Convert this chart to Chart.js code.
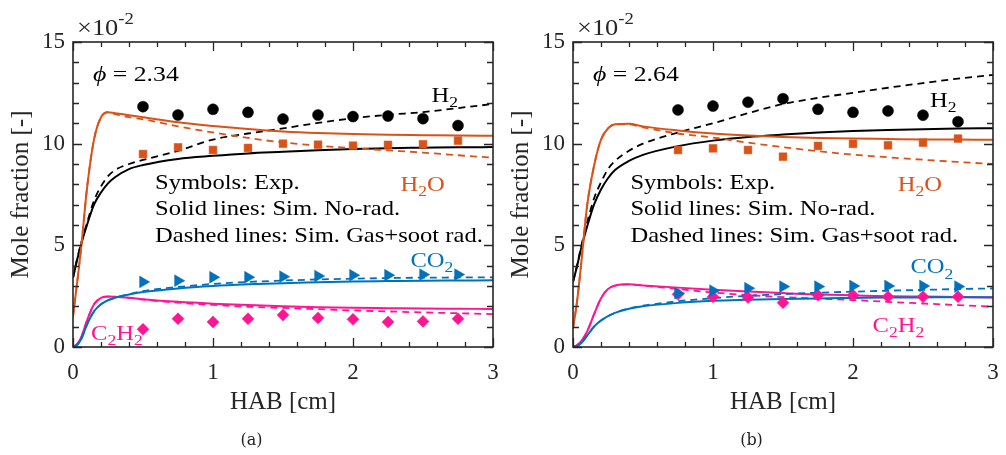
<!DOCTYPE html>
<html>
<head>
<meta charset="utf-8">
<script src="https://cdn.jsdelivr.net/npm/chart.js@4.4.0/dist/chart.umd.min.js"></script>
<style>
  body { margin: 0; background: #fff; width: 1006px; height: 455px; overflow: hidden; position: relative; }
  .panel { position: absolute; top: 0; width: 503px; height: 455px; }
</style>
</head>
<body>
<div class="panel" style="left:0"><canvas id="chartA" width="503" height="455"></canvas></div>
<div class="panel" style="left:500px"><canvas id="chartB" width="503" height="455"></canvas></div>
<script>
// ---- data (mole fraction x 1e-2, HAB in cm) ----
const simX = [0, 0.03, 0.06, 0.1, 0.15, 0.2, 0.25, 0.3, 0.4, 0.5, 0.75, 1, 1.25, 1.5, 1.75, 2, 2.25, 2.5, 2.75, 3];
const expXA = [0.5, 0.75, 1, 1.25, 1.5, 1.75, 2, 2.25, 2.5, 2.75];
const expXB = [0.75, 1, 1.25, 1.5, 1.75, 2, 2.25, 2.5, 2.75];

// phi = 2.34
const h2ExpA   = [11.82, 11.41, 11.69, 11.54, 11.21, 11.41, 11.33, 11.36, 11.23, 10.89];
const h2oExpA  = [9.49, 9.82, 9.69, 9.79, 10.0, 9.95, 9.9, 9.94, 9.97, 10.15];
const co2ExpA  = [3.2, 3.26, 3.43, 3.43, 3.46, 3.49, 3.53, 3.53, 3.56, 3.56];
const c2h2ExpA = [0.87, 1.39, 1.23, 1.39, 1.57, 1.43, 1.36, 1.23, 1.26, 1.39];

const h2oNoRadA  = [1.5, 3.2, 5.0, 7.8, 10.2, 11.3, 11.55, 11.5, 11.4, 11.3, 11.05, 10.87, 10.72, 10.6, 10.52, 10.47, 10.44, 10.42, 10.4, 10.39];
const h2oRadA    = [1.5, 3.2, 5.0, 7.8, 10.2, 11.3, 11.55, 11.45, 11.3, 11.2, 10.85, 10.55, 10.28, 10.06, 9.9, 9.78, 9.67, 9.56, 9.43, 9.31];
const h2NoRadA   = [3.4, 4.3, 5.1, 6.0, 7.0, 7.6, 8.05, 8.35, 8.75, 8.95, 9.25, 9.4, 9.52, 9.6, 9.68, 9.74, 9.78, 9.8, 9.82, 9.83];
const h2RadA     = [3.4, 4.35, 5.15, 6.1, 7.2, 7.9, 8.4, 8.7, 9.0, 9.2, 9.65, 10.2, 10.5, 10.75, 11.02, 11.25, 11.42, 11.55, 11.75, 11.95];
const co2NoRadA  = [0, 0.1, 0.4, 1.1, 1.75, 2.1, 2.3, 2.42, 2.58, 2.7, 2.88, 3.0, 3.08, 3.14, 3.18, 3.22, 3.24, 3.26, 3.27, 3.28];
const co2RadA    = [0, 0.1, 0.4, 1.1, 1.75, 2.1, 2.3, 2.42, 2.6, 2.75, 2.95, 3.1, 3.2, 3.27, 3.32, 3.36, 3.39, 3.41, 3.42, 3.43];
const c2h2NoRadA = [0, 0.15, 0.5, 1.3, 2.1, 2.42, 2.48, 2.47, 2.42, 2.35, 2.22, 2.13, 2.06, 2.0, 1.96, 1.93, 1.91, 1.89, 1.88, 1.87];
const c2h2RadA   = [0, 0.15, 0.5, 1.3, 2.1, 2.42, 2.48, 2.47, 2.42, 2.33, 2.18, 2.07, 1.98, 1.92, 1.86, 1.8, 1.75, 1.7, 1.66, 1.62];

// phi = 2.64
const h2ExpB   = [11.66, 11.85, 12.04, 12.21, 11.69, 11.54, 11.61, 11.4, 11.08];
const h2oExpB  = [9.69, 9.77, 9.69, 9.36, 9.89, 9.99, 9.92, 10.05, 10.25];
const co2ExpB  = [2.64, 2.77, 2.89, 2.97, 2.97, 3.0, 3.0, 3.0, 2.97];
const c2h2ExpB = [2.59, 2.47, 2.43, 2.18, 2.54, 2.54, 2.47, 2.47, 2.47];

const h2oNoRadB  = [0.9, 2.3, 4.2, 6.9, 8.9, 10.2, 10.75, 10.95, 10.98, 10.85, 10.65, 10.5, 10.4, 10.33, 10.28, 10.25, 10.23, 10.21, 10.2, 10.19];
const h2oRadB    = [0.9, 2.3, 4.2, 6.9, 8.9, 10.2, 10.75, 10.95, 10.95, 10.8, 10.5, 10.3, 10.05, 9.83, 9.63, 9.46, 9.33, 9.21, 9.1, 9.0];
const h2NoRadB   = [3.2, 4.0, 4.9, 5.9, 7.0, 7.75, 8.3, 8.7, 9.15, 9.45, 9.88, 10.15, 10.33, 10.45, 10.55, 10.62, 10.67, 10.71, 10.74, 10.76];
const h2RadB     = [3.2, 4.05, 5.0, 6.1, 7.3, 8.1, 8.75, 9.15, 9.65, 10.0, 10.55, 11.0, 11.5, 11.95, 12.25, 12.5, 12.75, 12.98, 13.2, 13.38];
const co2NoRadB  = [0, 0.05, 0.2, 0.55, 1.0, 1.3, 1.52, 1.68, 1.88, 2.0, 2.17, 2.27, 2.32, 2.36, 2.39, 2.41, 2.43, 2.44, 2.45, 2.45];
const co2RadB    = [0, 0.05, 0.2, 0.55, 1.0, 1.3, 1.52, 1.68, 1.9, 2.03, 2.25, 2.4, 2.52, 2.6, 2.67, 2.72, 2.77, 2.81, 2.85, 2.88];
const c2h2NoRadB = [0, 0.1, 0.3, 0.75, 1.6, 2.4, 2.85, 3.02, 3.08, 3.03, 2.92, 2.82, 2.73, 2.65, 2.58, 2.54, 2.5, 2.48, 2.46, 2.44];
const c2h2RadB   = [0, 0.1, 0.3, 0.75, 1.6, 2.4, 2.85, 3.02, 3.08, 3.02, 2.85, 2.68, 2.55, 2.45, 2.38, 2.31, 2.22, 2.14, 2.06, 1.98];

const xTicks = [0, 1, 2, 3];
const yTicks = [0, 5, 10, 15];

// ---- styling ----
const SERIF = '"Liberation Serif", "DejaVu Serif", serif';
const AXIS = '#262626';
const C = { h2: '#000000', h2o: '#D95319', co2: '#0072BD', c2h2: '#FF1493' };
const STRETCH = 1.17; // computer-modern-ish width

const pts = (xs, ys) => xs.map((x, i) => ({ x, y: ys[i] }));

function simLine(label, xs, ys, color, dashed) {
  return {
    label, data: pts(xs, ys), showLine: true, pointRadius: 0,
    borderColor: color, borderWidth: dashed ? 1.8 : 2,
    borderDash: dashed ? [7, 5] : [], cubicInterpolationMode: 'monotone', order: 2
  };
}

function expMarks(label, xs, ys, color, style, radius, rotation) {
  return {
    label, data: pts(xs, ys), showLine: false,
    pointStyle: style, pointRadius: radius, pointRotation: rotation || 0,
    backgroundColor: color, borderColor: color, pointBorderWidth: 0.5, order: 0
  };
}

// rich text: parts = [[text, 'n' | 'it' | 'sub' | 'sup'], ...]
function drawRich(ctx, x, y, parts, color, size, stretch) {
  ctx.save();
  ctx.translate(x, y);
  ctx.scale(stretch || STRETCH, 1);
  ctx.fillStyle = color;
  ctx.textBaseline = 'alphabetic';
  ctx.textAlign = 'left';
  let cx = 0;
  parts.forEach(([t, kind]) => {
    const small = kind === 'sub' || kind === 'sup';
    const s = small ? Math.round(size * 0.72) : size;
    ctx.font = `${kind === 'it' ? 'italic ' : ''}${s}px ${SERIF}`;
    const dy = kind === 'sub' ? size * 0.25 : kind === 'sup' ? -size * 0.45 : 0;
    ctx.fillText(t, cx, dy);
    cx += ctx.measureText(t).width;
  });
  ctx.restore();
}

// box, inward ticks, annotations
function decorPlugin(opts) {
  return {
    id: 'decor',
    afterDatasetsDraw(chart) {
      const { ctx, chartArea: a, scales: { x, y } } = chart;
      ctx.save();
      ctx.strokeStyle = AXIS;
      ctx.lineWidth = 1.3;
      ctx.beginPath();
      for (let i = 0; i <= 15; i++) {
        const v = i * 0.2, px = Math.round(x.getPixelForValue(v)) + 0.5;
        const len = Math.abs(v - Math.round(v)) < 1e-6 ? 9 : 5;
        ctx.moveTo(px, a.bottom); ctx.lineTo(px, a.bottom - len);
        ctx.moveTo(px, a.top); ctx.lineTo(px, a.top + len);
      }
      for (let v = 0; v <= 15; v++) {
        const py = Math.round(y.getPixelForValue(v)) + 0.5;
        const len = v % 5 === 0 ? 9 : 6;
        ctx.moveTo(a.left, py); ctx.lineTo(a.left + len, py);
        ctx.moveTo(a.right, py); ctx.lineTo(a.right - len, py);
      }
      ctx.stroke();
      ctx.lineWidth = 1.6;
      ctx.strokeRect(a.left, a.top, a.right - a.left, a.bottom - a.top);

      // exponent
      drawRich(ctx, a.left + 4, a.top - 7, [['\u00d710', 'n'], ['-2', 'sup']], AXIS, 24, 1.1);

      // labels
      opts.labels.forEach(l => {
        drawRich(ctx, x.getPixelForValue(l.x), y.getPixelForValue(l.y), l.parts, l.color, l.size || 21);
      });

      // caption
      ctx.fillStyle = '#222';
      ctx.font = '16px "DejaVu Serif", serif';
      ctx.textAlign = 'center';
      ctx.textBaseline = 'middle';
      ctx.fillText(opts.caption, chart.width / 2, 441);
      ctx.restore();
    }
  };
}

function legendText(x0) {
  return [
    { x: x0, y: 7.77, parts: [['Symbols: Exp.', 'n']], color: '#000' },
    { x: x0, y: 6.49, parts: [['Solid lines: Sim. No-rad.', 'n']], color: '#000' },
    { x: x0, y: 5.18, parts: [['Dashed lines: Sim. Gas+soot rad.', 'n']], color: '#000' }
  ];
}

function makeChart(id, datasets, opts) {
  const tickFont = { family: SERIF, size: 23 };
  return new Chart(document.getElementById(id), {
    type: 'scatter',
    data: { datasets },
    options: {
      responsive: false,
      animation: false,
      layout: { padding: { left: 0, right: 10, top: 42, bottom: 0 } },
      plugins: { legend: { display: false }, tooltip: { enabled: false } },
      scales: {
        x: {
          type: 'linear', min: 0, max: 3,
          afterBuildTicks: s => { s.ticks = xTicks.map(v => ({ value: v })); },
          afterFit: s => { s.height = 108; s.paddingLeft = 0; s.paddingRight = 0; },
          grid: { display: false, drawTicks: false },
          border: { display: false },
          ticks: { font: tickFont, color: AXIS, padding: 12, maxRotation: 0 },
          title: { display: true, text: 'HAB [cm]', font: { family: SERIF, size: 25 }, color: AXIS, padding: { top: 0, bottom: 38 } }
        },
        y: {
          type: 'linear', min: 0, max: 15,
          afterBuildTicks: s => { s.ticks = yTicks.map(v => ({ value: v })); },
          afterFit: s => { s.width = 73; },
          grid: { display: false, drawTicks: false },
          border: { display: false },
          ticks: { font: tickFont, color: AXIS, padding: 8 },
          title: { display: true, text: 'Mole fraction [-]', font: { family: SERIF, size: 25 }, color: AXIS, padding: { top: 6, bottom: 0 } }
        }
      }
    },
    plugins: [decorPlugin(opts)]
  });
}

makeChart('chartA', [
  expMarks('H2 exp', expXA, h2ExpA, C.h2, 'circle', 5.5),
  expMarks('H2O exp', expXA, h2oExpA, C.h2o, 'rect', 5.5),
  expMarks('CO2 exp', expXA, co2ExpA, C.co2, 'triangle', 6.8, 90),
  expMarks('C2H2 exp', expXA, c2h2ExpA, C.c2h2, 'rectRot', 6),
  simLine('H2O no-rad', simX, h2oNoRadA, C.h2o, false),
  simLine('H2O rad', simX, h2oRadA, C.h2o, true),
  simLine('H2 no-rad', simX, h2NoRadA, C.h2, false),
  simLine('H2 rad', simX, h2RadA, C.h2, true),
  simLine('CO2 no-rad', simX, co2NoRadA, C.co2, false),
  simLine('CO2 rad', simX, co2RadA, C.co2, true),
  simLine('C2H2 no-rad', simX, c2h2NoRadA, C.c2h2, false),
  simLine('C2H2 rad', simX, c2h2RadA, C.c2h2, true)
], {
  caption: '(a)',
  labels: [
    { x: 0.143, y: 13.08, parts: [['\u03d5', 'it'], [' = 2.34', 'n']], color: '#000', size: 22 },
    { x: 2.56, y: 12.07, parts: [['H', 'n'], ['2', 'sub']], color: C.h2 },
    { x: 2.34, y: 7.67, parts: [['H', 'n'], ['2', 'sub'], ['O', 'n']], color: C.h2o },
    { x: 2.41, y: 3.95, parts: [['CO', 'n'], ['2', 'sub']], color: C.co2 },
    { x: 0.129, y: 0.34, parts: [['C', 'n'], ['2', 'sub'], ['H', 'n'], ['2', 'sub']], color: C.c2h2 }
  ].concat(legendText(0.586))
});

makeChart('chartB', [
  expMarks('H2 exp', expXB, h2ExpB, C.h2, 'circle', 5.5),
  expMarks('H2O exp', expXB, h2oExpB, C.h2o, 'rect', 5.5),
  expMarks('CO2 exp', expXB, co2ExpB, C.co2, 'triangle', 6.8, 90),
  expMarks('C2H2 exp', expXB, c2h2ExpB, C.c2h2, 'rectRot', 6),
  simLine('H2O no-rad', simX, h2oNoRadB, C.h2o, false),
  simLine('H2O rad', simX, h2oRadB, C.h2o, true),
  simLine('H2 no-rad', simX, h2NoRadB, C.h2, false),
  simLine('H2 rad', simX, h2RadB, C.h2, true),
  simLine('CO2 no-rad', simX, co2NoRadB, C.co2, false),
  simLine('CO2 rad', simX, co2RadB, C.co2, true),
  simLine('C2H2 no-rad', simX, c2h2NoRadB, C.c2h2, false),
  simLine('C2H2 rad', simX, c2h2RadB, C.c2h2, true)
], {
  caption: '(b)',
  labels: [
    { x: 0.143, y: 13.08, parts: [['\u03d5', 'it'], [' = 2.64', 'n']], color: '#000', size: 22 },
    { x: 2.55, y: 11.82, parts: [['H', 'n'], ['2', 'sub']], color: C.h2 },
    { x: 2.32, y: 7.67, parts: [['H', 'n'], ['2', 'sub'], ['O', 'n']], color: C.h2o },
    { x: 2.41, y: 3.62, parts: [['CO', 'n'], ['2', 'sub']], color: C.co2 },
    { x: 2.14, y: 0.75, parts: [['C', 'n'], ['2', 'sub'], ['H', 'n'], ['2', 'sub']], color: C.c2h2 }
  ].concat(legendText(0.41))
});
</script>
</body>
</html>
